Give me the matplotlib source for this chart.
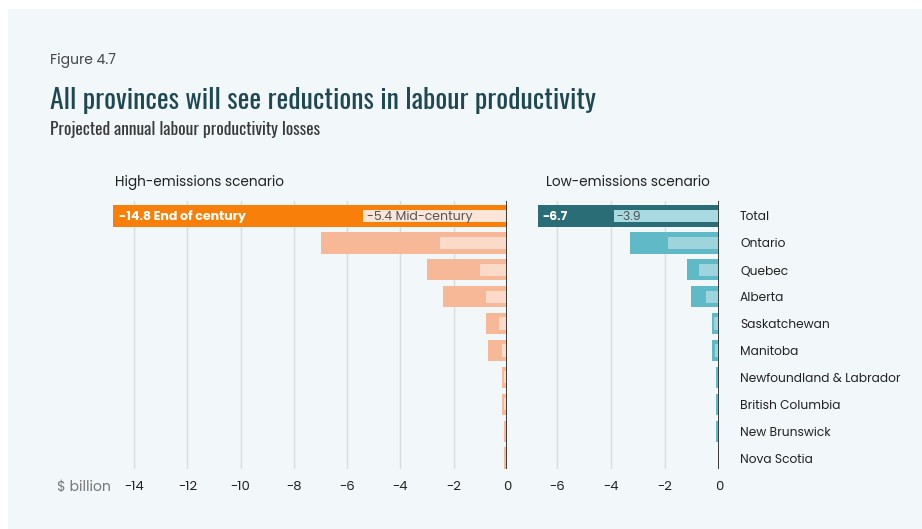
import os
import matplotlib.pyplot as plt
from matplotlib.patches import Rectangle
from matplotlib import font_manager

provinces = ['Total', 'Ontario', 'Quebec', 'Alberta', 'Saskatchewan', 'Manitoba',
             'Newfoundland & Labrador', 'British Columbia', 'New Brunswick', 'Nova Scotia']

# $ billion, annual losses
high_end = [-14.8, -7.0, -3.0, -2.4, -0.8, -0.7, -0.2, -0.2, -0.1, -0.1]
high_mid = [-5.4, -2.5, -1.0, -0.8, -0.3, -0.2, -0.1, -0.1, -0.05, -0.05]
low_end = [-6.7, -3.3, -1.2, -1.05, -0.27, -0.27, -0.1, -0.1, -0.1, -0.03]
low_mid = [-3.9, -1.9, -0.75, -0.5, -0.2, -0.15, -0.05, -0.05, -0.05, -0.02]

high_ticks = [-14, -12, -10, -8, -6, -4, -2, 0]
low_ticks = [-6, -4, -2, 0]

ttf = font_manager.fontManager.ttflist
installed = {f.name for f in ttf}
# variable fonts render only their default (often thin) instance
static = {f.name for f in ttf if '[' not in os.path.basename(f.fname) and f.weight in (400, 'normal', 'regular')}


def pick(pool, *cands):
    for c in cands:
        if c in pool:
            return c
    return 'DejaVu Sans'


BG = '#f2f7fa'
FONT = pick(static, 'Montserrat', 'Poppins', 'Open Sans')
HEAD = pick(installed, 'Oswald', 'Roboto Condensed', 'Liberation Sans Narrow')

fig = plt.figure(figsize=(9.22, 5.29), dpi=100)
fig.patch.set_facecolor('white')
fig.add_artist(Rectangle((8 / 922, 0), 1, 1 - 9 / 529, transform=fig.transFigure,
                         facecolor=BG, edgecolor='none', zorder=-10))


def panel(rect, xlim, ticks, end, mid, c_total, c_end, c_mid, c_total_mid):
    ax = fig.add_axes(rect)
    ax.set_facecolor('none')
    ys = list(range(len(provinces)))
    end_colors = [c_total] + [c_end] * (len(provinces) - 1)
    mid_colors = [c_total_mid] + [c_mid] * (len(provinces) - 1)
    ax.barh(ys, end, height=0.8, color=end_colors, zorder=2)
    ax.barh(ys, mid, height=0.45, color=mid_colors, zorder=3)
    ax.set_xlim(*xlim)
    ax.set_ylim(9.4, -0.55)
    ax.set_xticks(ticks)
    ax.set_xticklabels([str(t) for t in ticks], fontsize=9.5, family=FONT, color='#222222')
    ax.set_yticks([])
    for t in ticks[:-1]:
        ax.axvline(t, color='#d6dce0', lw=1, zorder=1)
    ax.axvline(0, color='#3a3a3a', lw=1.4, zorder=4)
    for s in ax.spines.values():
        s.set_visible(False)
    ax.tick_params(axis='x', length=0, pad=9)
    return ax


ax1 = panel([107.4 / 922, 1 - 469 / 529, (507 - 107.4) / 922, 268 / 529], (-15, 0), high_ticks,
            high_end, high_mid, '#f77f0a', '#f6b896', '#fbdac9', '#fbe4d8')
ax2 = panel([530 / 922, 1 - 469 / 529, 189 / 922, 268 / 529], (-7, 0), low_ticks,
            low_end, low_mid, '#2a6d77', '#5fb9c6', '#9ed4dc', '#a9d9e1')

# labels inside the total bars
ax1.text(high_end[0] + 0.25, 0.04, f'{high_end[0]} End of century', color='white', fontsize=9,
         fontweight='bold', family=FONT, va='center', zorder=5)
ax1.text(high_mid[0] + 0.15, 0.04, f'{high_mid[0]} Mid-century', color='#555555', fontsize=9,
         family=FONT, va='center', zorder=5)
ax2.text(low_end[0] + 0.17, 0.04, f'{low_end[0]}', color='white', fontsize=9,
         fontweight='bold', family=FONT, va='center', zorder=5)
ax2.text(low_mid[0] + 0.1, 0.04, f'{low_mid[0]}', color='#555555', fontsize=9,
         family=FONT, va='center', zorder=5)

# province names to the right
for i, name in enumerate(provinces):
    ax2.text(0.78, i + 0.05, name, fontsize=8.8, family=FONT,
             color='#222222', va='center')

fig.text(115 / 922, 1 - 183 / 529, 'High-emissions scenario', fontsize=9.8, family=FONT,
         color='#222222', va='center')
fig.text(546 / 922, 1 - 183 / 529, 'Low-emissions scenario', fontsize=9.8, family=FONT,
         color='#222222', va='center')
fig.text(57 / 922, 1 - 488 / 529, '$ billion', fontsize=10, family=FONT,
         color='#777777', va='center')

fig.text(50 / 922, 1 - 61 / 529, 'Figure 4.7', fontsize=10, family=FONT,
         color='#444444', va='center')
title = fig.text(50 / 922, 1 - 100 / 529, 'All provinces will see reductions in labour productivity',
                 fontsize=20, family=HEAD, fontweight='medium', color='#1f4852', va='center')
sub = fig.text(50 / 922, 1 - 130 / 529, 'Projected annual labour productivity losses',
               fontsize=12.5, family=HEAD, fontweight='light', color='#3a3a3a', va='center')

# fit the headings to the reference widths
fig.canvas.draw()
r = fig.canvas.get_renderer()
for txt, target in [(title, 550), (sub, 275)]:
    w = txt.get_window_extent(r).width
    if abs(w - target) > target * 0.04:
        txt.set_fontsize(txt.get_fontsize() * target / w)

fig.savefig('out.png', dpi=100, facecolor=fig.get_facecolor())
